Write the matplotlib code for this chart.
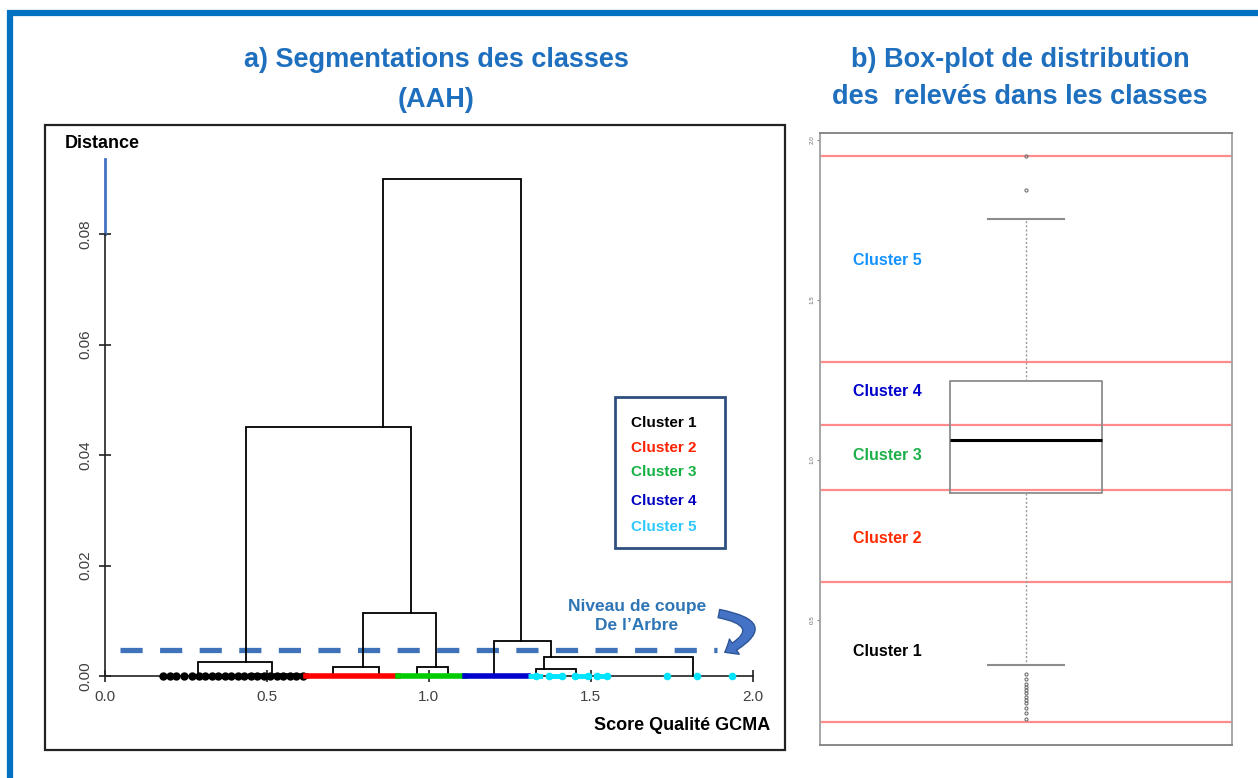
import matplotlib
matplotlib.use("Agg")
import matplotlib.pyplot as plt
from matplotlib.patches import Rectangle, FancyArrowPatch

# ── Data ─────────────────────────────────────────────────────────────────────
# dendrogram merges: bar from x_left to x_right at height h,
# verticals drop down to the child bar heights (0 = leaf)
node_xl = [0.858, 0.435, 0.287, 0.796, 0.704, 0.963, 1.200, 1.355, 1.330]
node_xr = [1.284, 0.944, 0.515, 1.022, 0.846, 1.059, 1.377, 1.815, 1.454]
node_h = [0.090, 0.045, 0.0025, 0.0114, 0.0016, 0.0016, 0.0063, 0.0034, 0.0013]
child_hl = [0.045, 0.0025, 0.0, 0.0016, 0.0, 0.0, 0.0, 0.0013, 0.0]
child_hr = [0.0063, 0.0114, 0.0, 0.0016, 0.0, 0.0, 0.0034, 0.0, 0.0]

cluster_names = ["Cluster 1", "Cluster 2", "Cluster 3", "Cluster 4", "Cluster 5"]
cluster_bounds = [0.18, 0.62, 0.905, 1.11, 1.305, 1.95]
cluster1_pts = [0.18, 0.20, 0.22, 0.245, 0.27, 0.29, 0.31, 0.33, 0.35, 0.37,
                0.39, 0.41, 0.43, 0.45, 0.47, 0.49, 0.51, 0.53, 0.55, 0.57,
                0.59, 0.61]
cluster5_pts = [1.33, 1.37, 1.41, 1.45, 1.49, 1.52, 1.55, 1.735, 1.827, 1.935]
cut_level = 0.0047

# box-plot statistics (score qualité GCMA)
box_q1, box_med, box_q3 = 0.897, 1.062, 1.247
box_lo, box_hi = 0.36, 1.753
box_fliers = [1.844, 1.95, 0.33, 0.315, 0.30, 0.29, 0.28, 0.27, 0.26, 0.25,
              0.24, 0.225, 0.21, 0.19]

# ── Style ────────────────────────────────────────────────────────────────────
TITLE_BLUE = "#1F6FBF"
ANNOT_BLUE = "#2E75B6"
LEG_COLORS = ["black", "#FF2000", "#12B040", "#0000C0", "#2EC8FF"]
BOX_COLORS = ["black", "#FF2A00", "#1DB04A", "#0000CC", "#1493FF"]
SEG_COLORS = ["black", "#FF0000", "#00CC00", "#0000CC", "#00E5FF"]

plt.rcParams["font.family"] = ["Liberation Sans", "DejaVu Sans"]

W, H = 1258, 778
fig = plt.figure(figsize=(W / 100, H / 100), dpi=100)

# outer blue frame (top and left only visible)
fig.patches.append(Rectangle((10 / W, -0.05), 1.1, (H - 13) / H + 0.05,
                             transform=fig.transFigure, fill=False,
                             edgecolor="#0070C0", lw=4.5))

# titles
fig.text(436 / W, 1 - 60 / H, "a) Segmentations des classes", ha="center",
         va="center", fontsize=19.5, fontweight="bold", color=TITLE_BLUE)
fig.text(436 / W, 1 - 100 / H, "(AAH)", ha="center", va="center",
         fontsize=19.5, fontweight="bold", color=TITLE_BLUE)
fig.text(1020 / W, 1 - 60 / H, "b) Box-plot de distribution", ha="center",
         va="center", fontsize=19.5, fontweight="bold", color=TITLE_BLUE)
fig.text(1020 / W, 1 - 97 / H, "des  relevés dans les classes", ha="center",
         va="center", fontsize=19.5, fontweight="bold", color=TITLE_BLUE)

# ── a) dendrogram ────────────────────────────────────────────────────────────
ax = fig.add_axes([45 / W, 28 / H, 740 / W, 625 / H])
ax.set_xlim(-0.185, 2.099)
ax.set_ylim(-0.01339, 0.09973)

for xl, xr, h, hl, hr in zip(node_xl, node_xr, node_h, child_hl, child_hr):
    ax.plot([xl, xl, xr, xr], [hl, h, h, hr], color="black", lw=1.3,
            solid_joinstyle="miter", zorder=3)

# cluster members along the axis
ax.plot(cluster1_pts, [0] * len(cluster1_pts), "o", color="black", ms=5,
        zorder=4)
ax.plot([0.45, cluster_bounds[1]], [0, 0], color="black", lw=4, zorder=4)
for i in range(1, 4):
    ax.plot([cluster_bounds[i], cluster_bounds[i + 1]], [0, 0],
            color=SEG_COLORS[i], lw=4, zorder=4)
ax.plot([cluster_bounds[4], 1.56], [0, 0], color=SEG_COLORS[4], lw=3.5,
        ls=(0, (3, 1.5)), zorder=4)
ax.plot(cluster5_pts, [0] * len(cluster5_pts), "o", color=SEG_COLORS[4],
        ms=4.5, zorder=4)

# cut level
ax.plot([0.046, 1.889], [cut_level, cut_level], color="#3F72B8", lw=3.8,
        ls=(0, (4.2, 3.3)), zorder=2)
ax.text(1.642, 0.0109, "Niveau de coupe\nDe l\u2019Arbre", ha="center",
        va="center", fontsize=12.5, fontweight="bold", color=ANNOT_BLUE,
        linespacing=1.3)
ax.add_patch(FancyArrowPatch((1.895, 0.0113), (1.913, 0.0043),
                             connectionstyle="arc3,rad=-1.4",
                             arrowstyle="simple,head_length=8,head_width=13,tail_width=6",
                             facecolor="#4472C4", edgecolor="#2F5597", lw=1,
                             shrinkA=0, shrinkB=0, zorder=5))

# R-style axes
for s in ["top", "right"]:
    ax.spines[s].set_visible(False)
ax.spines["left"].set_position(("data", 0))
ax.spines["bottom"].set_position(("data", 0))
ax.spines["left"].set_bounds(0, 0.08)
ax.spines["bottom"].set_bounds(0, 2.0)
for s in ["left", "bottom"]:
    ax.spines[s].set_linewidth(1.2)
    ax.spines[s].set_color("#222222")
ax.plot([0, 0], [0.08, 0.0935], color="#4472C4", lw=2)
ax.set_xticks([0, 0.5, 1.0, 1.5, 2.0])
ax.set_xticklabels(["0.0", "0.5", "1.0", "1.5", "2.0"])
ax.set_yticks([0, 0.02, 0.04, 0.06, 0.08])
ax.set_yticklabels(["0.00", "0.02", "0.04", "0.06", "0.08"], rotation=90,
                   va="center")
ax.tick_params(direction="inout", length=8, width=1.2, colors="#222222",
               labelsize=11, labelcolor="#404040")
ax.tick_params(axis="x", pad=6)
ax.tick_params(axis="y", pad=5)
ax.add_patch(Rectangle((0, 0), 1, 1, transform=ax.transAxes, fill=False,
                       edgecolor="#222222", lw=1.6, clip_on=False, zorder=6))
ax.text(0.027, 0.97, "Distance", transform=ax.transAxes, ha="left",
        va="center", fontsize=13, fontweight="bold")
ax.text(0.98, 0.039, "Score Qualité GCMA", transform=ax.transAxes,
        ha="right", va="center", fontsize=13, fontweight="bold")

# legend box
ax.add_patch(Rectangle((0.770, 0.323), 0.149, 0.242, transform=ax.transAxes,
                       fill=False, edgecolor="#2F4F7F", lw=2, zorder=6))
for name, col, yy in zip(cluster_names, LEG_COLORS,
                         [0.523, 0.484, 0.444, 0.398, 0.357]):
    ax.text(0.792, yy, name, transform=ax.transAxes, ha="left", va="center",
            fontsize=11, fontweight="bold", color=col)

# ── b) box-plot ──────────────────────────────────────────────────────────────
ax2 = fig.add_axes([820 / W, 33 / H, 412 / W, 612 / H])
ax2.set_xlim(0.5, 1.5)
ax2.set_ylim(0.109, 2.022)

for v in cluster_bounds:
    ax2.axhline(v, color="#FF8C8C", lw=1.6, zorder=1)

stats = dict(med=box_med, q1=box_q1, q3=box_q3, whislo=box_lo,
             whishi=box_hi, fliers=box_fliers)
ax2.bxp([stats], positions=[1], widths=0.37, showfliers=True,
        boxprops=dict(color="#8C8C8C", lw=1.3),
        medianprops=dict(color="black", lw=2.2),
        whiskerprops=dict(color="#9A9A9A", lw=1, ls=(0, (1.5, 1.5))),
        capprops=dict(color="#8C8C8C", lw=1.5),
        flierprops=dict(marker="o", ms=2.2, mfc="none", mec="#707070",
                        mew=0.8), zorder=3)

for name, col, yy in zip(cluster_names, BOX_COLORS,
                         [0.40, 0.753, 1.0125, 1.2125, 1.625]):
    ax2.text(0.08, yy, name, transform=ax2.get_yaxis_transform(),
             ha="left", va="center", fontsize=11.5, fontweight="bold",
             color=col)

ax2.set_xticks([])
ax2.set_yticks([0.5, 1.0, 1.5, 2.0])
ax2.set_yticklabels(["0.5", "1.0", "1.5", "2.0"], rotation=90, va="center")
ax2.tick_params(axis="y", length=2, width=0.8, colors="#888888",
                labelsize=4.5, labelcolor="#666666", pad=2)
for s in ax2.spines.values():
    s.set_color("#A0A0A0")
    s.set_linewidth(1.3)
ax2.spines["bottom"].set_color("#808080")
ax2.spines["top"].set_color("#808080")

fig.savefig("out.png", dpi=100)
